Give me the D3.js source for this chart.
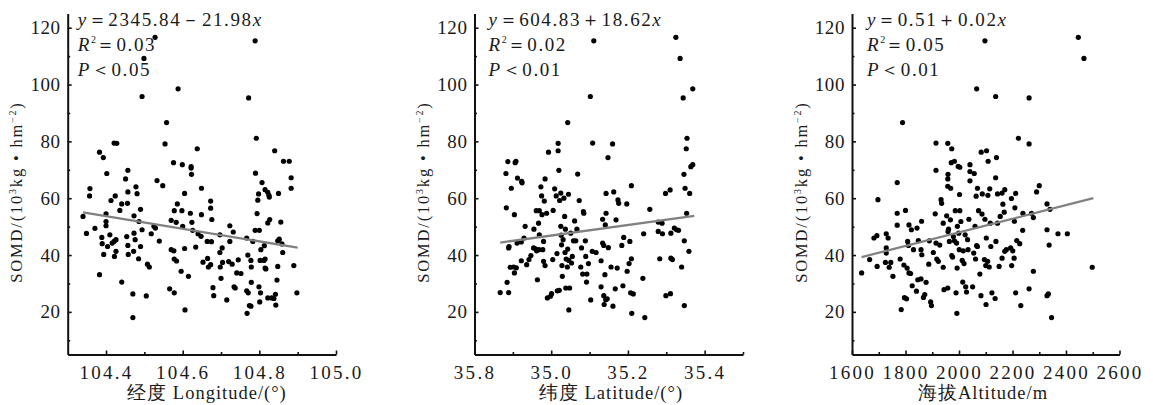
<!DOCTYPE html>
<html>
<head>
<meta charset="utf-8">
<script src="https://cdn.jsdelivr.net/npm/d3@7"></script>
<style>
  body { margin: 0; background: #fff; }
  text { font-family: "Liberation Serif", "Times New Roman", serif; fill: #1a1a1a; }
</style>
</head>
<body>
<div id="chart"></div>
<script>
// SOMD against longitude / latitude / altitude, three scatter panels

// points: [x, SOMD]
var lonPoints = [
  [104.528,116.6],[104.499,109.2],[104.494,95.8],[104.588,98.5],[104.789,115.4],[104.772,95.3],[104.558,86.6],[104.792,81.1],
  [104.421,79.4],[104.428,79.3],[104.554,79.1],[104.638,77.4],[104.840,76.7],[104.383,76.2],[104.393,74.3],[104.863,73.0],
  [104.878,73.0],[104.576,72.5],[104.599,71.8],[104.622,71.1],[104.622,70.6],[104.457,69.8],[104.402,68.7],[104.623,68.4],
  [104.790,68.8],[104.883,67.2],[104.451,66.8],[104.533,66.2],[104.807,65.5],[104.548,64.4],[104.478,64.0],[104.358,63.4],
  [104.649,63.5],[104.883,63.5],[104.815,63.0],[104.822,62.1],[104.457,62.2],[104.481,61.6],[104.605,61.7],[104.798,61.5],
  [104.850,61.7],[104.357,60.8],[104.424,60.8],[104.825,61.0],[104.826,60.4],[104.673,59.0],[104.413,59.2],[104.796,59.3],
  [104.441,58.0],[104.586,58.0],[104.456,58.2],
  [104.340,53.6],[104.349,47.6],[104.371,49.4],[104.383,33.1],[104.389,46.2],[104.390,44.0],[104.394,40.2],[104.400,54.5],
  [104.400,51.8],[104.400,50.3],[104.410,47.1],[104.404,43.0],[104.416,44.2],[104.421,44.8],[104.426,45.4],[104.426,41.3],
  [104.422,39.5],[104.436,55.7],[104.441,30.5],[104.454,46.5],[104.457,43.4],[104.458,40.2],[104.485,38.7],[104.470,26.3],
  [104.470,18.0],[104.473,53.8],[104.473,47.7],[104.476,45.4],[104.472,41.3],[104.486,51.8],[104.490,56.1],[104.490,43.0],
  [104.494,48.9],[104.505,25.6],[104.508,36.8],[104.513,35.8],[104.518,47.5],[104.525,50.1],[104.529,49.5],[104.539,44.9],
  [104.566,28.1],[104.570,52.2],[104.570,41.9],[104.577,41.5],[104.578,55.6],[104.583,51.5],[104.578,38.6],[104.584,37.9],
  [104.578,26.7],[104.596,34.3],[104.598,55.6],[104.600,50.1],[104.605,42.3],[104.606,20.7],[104.615,32.5],[104.620,54.7],
  [104.624,51.5],[104.626,48.7],[104.634,42.8],[104.640,47.5],[104.649,54.2],[104.653,37.5],[104.648,46.6],[104.664,44.8],
  [104.665,38.8],[104.667,35.8],[104.673,56.5],[104.676,52.5],[104.675,44.7],[104.673,36.6],[104.679,28.5],[104.681,25.7],
  [104.697,47.1],[104.697,40.9],[104.698,35.8],[104.700,31.8],[104.703,42.5],[104.704,37.4],[104.715,24.2],[104.720,37.7],
  [104.723,50.3],[104.723,44.8],[104.729,36.8],[104.732,48.1],[104.734,28.8],[104.737,28.4],[104.745,38.3],[104.741,33.7],
  [104.752,33.5],
  [104.767,46.0],[104.770,40.0],[104.767,27.4],[104.771,26.7],[104.774,22.2],[104.778,22.0],[104.768,19.5],[104.779,35.8],
  [104.778,38.1],[104.779,30.4],[104.783,44.8],[104.789,48.7],[104.794,54.6],[104.799,28.8],[104.800,48.7],[104.802,38.1],
  [104.801,23.5],[104.803,26.7],[104.804,41.9],[104.812,38.1],[104.813,43.3],[104.815,38.6],[104.815,35.4],[104.817,35.1],
  [104.822,51.3],[104.827,52.5],[104.822,24.9],[104.832,24.9],[104.838,24.7],[104.843,22.4],[104.842,26.2],[104.846,31.2],
  [104.848,36.0],[104.848,45.0],[104.852,45.6],[104.856,51.6],[104.859,43.9],[104.861,40.9],[104.890,36.3],[104.898,26.7]
];

var latPoints = [
  [35.111,115.4],[35.325,116.6],[35.336,109.2],[35.102,95.8],[35.369,98.5],[35.344,95.3],[35.043,86.6],[35.354,81.1],
  [35.018,79.3],[35.108,79.4],[35.160,79.1],[35.352,77.4],[35.018,76.7],[34.993,76.2],[35.148,74.3],[34.887,72.9],
  [34.908,73.0],[34.906,72.5],[35.369,71.8],[35.364,71.1],[34.882,68.7],[35.020,69.8],[35.069,68.5],[35.346,68.4],
  [34.912,67.1],[34.923,65.9],[34.924,65.4],[34.984,66.8],[34.973,64.0],[34.896,63.5],[35.209,64.4],[35.310,62.9],
  [35.349,63.5],[35.009,63.3],[35.163,62.2],[35.143,61.7],[35.298,61.7],[35.361,61.7],
  [34.883,56.6],[34.904,54.2],[34.932,50.1],[34.867,26.8],[34.885,30.4],[34.889,26.8],[34.889,42.5],[34.890,43.0],
  [34.893,35.7],[34.902,35.8],[34.904,33.7],[34.909,35.5],[34.911,44.2],[34.922,44.6],[34.922,38.0],[34.929,46.0],
  [34.936,36.6],[34.942,38.4],[34.947,39.8],[34.954,42.5],[34.955,49.1],[34.959,42.2],[34.961,55.6],[34.962,41.5],
  [34.964,31.3],[34.967,51.2],[34.968,41.9],[34.969,55.6],[34.969,47.1],[34.975,60.8],[34.976,54.2],[34.978,41.9],
  [34.980,44.8],[34.980,37.8],[34.982,59.0],[34.984,36.3],[34.988,54.7],[34.990,24.9],[34.998,25.5],[35.001,26.4],
  [35.004,38.4],[35.005,55.7],[35.013,60.8],[35.015,40.5],[35.016,27.4],[35.021,27.6],[35.022,59.2],[35.025,61.8],
  [35.025,50.1],[35.026,47.0],[35.027,43.6],[35.028,36.3],[35.029,32.5],[35.031,45.4],[35.033,60.0],[35.035,53.6],
  [35.036,40.9],[35.037,49.1],[35.038,28.4],[35.039,38.6],[35.042,35.8],[35.043,42.1],[35.045,61.4],[35.046,20.7],
  [35.046,38.1],[35.048,28.4],[35.051,47.7],[35.053,37.2],[35.055,39.5],[35.058,45.0],[35.061,52.0],[35.064,45.0],
  [35.067,49.1],[35.073,59.2],[35.077,35.8],[35.079,42.5],[35.082,33.3],[35.084,55.3],[35.085,54.7],[35.089,45.0],
  [35.090,39.5],[35.092,30.5],[35.093,33.3],[35.097,37.0],[35.103,24.2],[35.107,41.3],[35.117,40.9],[35.130,38.0],
  [35.130,28.8],[35.134,52.6],[35.134,44.2],[35.137,43.4],[35.137,25.7],[35.138,22.6],[35.140,33.1],[35.141,50.6],
  [35.142,24.3],[35.143,54.7],[35.146,24.6],[35.149,42.6],[35.156,35.8],[35.161,22.0],[35.167,28.1],[35.169,52.4],
  [35.172,35.4],[35.174,59.4],[35.176,58.2],[35.184,43.4],[35.187,29.2],[35.189,46.2],[35.197,58.0],[35.198,34.3],
  [35.203,37.0],[35.205,44.8],[35.207,26.7],[35.209,38.7],[35.210,19.5],[35.214,26.3],[35.239,31.8],[35.241,47.5],
  [35.244,18.0],[35.257,56.1],[35.279,48.3],[35.279,51.6],[35.283,38.7],[35.289,51.2],[35.290,47.5],[35.299,25.7],
  [35.311,26.4],[35.312,47.7],[35.312,38.9],[35.316,38.4],[35.321,49.5],[35.327,48.9],[35.332,48.7],[35.340,35.8],
  [35.347,45.0],[35.347,22.2],[35.353,54.7],[35.359,41.3]
];

var altPoints = [
  [2097,115.4],[2446,116.6],[2467,109.2],[2066,98.5],[2137,95.8],[2262,95.3],[1789,86.6],[2222,81.1],[1914,79.4],[1958,79.3],
  [2262,79.1],[1973,77.4],[2083,76.2],[2103,76.7],[2140,74.3],[2109,73.0],[1971,72.5],[1983,73.0],[1997,71.2],[2003,70.9],
  [1914,69.8],[2041,71.8],[1959,68.4],[2041,69.4],[2057,68.7],[1958,66.8],[2041,66.1],[2137,67.2],[1769,65.5],[1958,64.2],
  [1969,63.5],[2069,63.5],[2115,63.3],[2171,63.0],[2300,64.4],[2290,62.2],[2002,61.3],[2087,61.5],[2108,61.0],[2144,61.5],
  [2161,61.8],[2212,61.7],[2064,60.7],[1697,59.5],[1933,59.5],[2196,59.9],
  [1636,33.7],[1666,38.4],[1682,46.0],[1693,46.8],[1694,36.0],[1725,37.4],[1728,47.5],[1728,42.5],[1728,40.7],[1735,46.0],
  [1739,35.7],[1745,37.4],[1753,32.5],[1769,54.7],[1769,50.5],[1780,38.6],[1784,20.8],[1794,36.5],[1796,25.0],[1800,55.7],
  [1804,24.6],[1806,35.4],[1808,44.8],[1811,43.4],[1813,50.6],[1813,33.7],[1819,33.5],[1822,48.9],[1825,29.2],[1830,41.9],
  [1841,27.3],[1843,49.5],[1846,31.3],[1848,45.1],[1858,31.6],[1858,41.9],[1860,51.9],[1861,40.1],[1867,25.1],[1872,26.1],
  [1877,30.4],[1887,36.8],[1889,45.0],[1894,23.5],[1897,22.2],[1904,40.9],[1911,54.5],[1914,44.2],[1917,38.6],[1923,37.8],
  [1928,43.5],[1935,58.2],[1941,51.2],[1941,35.7],[1944,27.8],[1954,53.8],[1958,28.4],[1959,48.3],[1961,49.1],[1964,44.8],
  [1968,52.4],[1973,39.8],[1976,39.3],[1979,46.5],[1983,45.0],[1986,55.6],[1989,26.7],[1991,44.2],[1992,19.5],[1993,35.4],
  [1994,50.1],[1999,47.7],[2001,41.9],[2003,55.6],[2007,51.8],[2012,38.1],[2014,30.5],[2016,41.5],[2019,37.0],[2023,47.1],
  [2025,28.8],[2028,27.0],[2032,45.4],[2034,41.9],[2037,52.6],[2051,28.8],[2055,40.7],[2060,50.1],[2062,38.6],[2066,43.3],
  [2069,43.0],[2073,55.6],[2078,33.3],[2082,25.7],[2086,54.4],[2095,38.4],[2097,52.6],[2100,36.3],[2101,22.6],[2102,46.0],
  [2107,37.8],[2113,35.8],[2117,51.2],[2119,43.0],[2123,26.7],[2135,24.7],[2138,44.8],[2144,51.2],[2150,36.0],[2154,53.6],
  [2161,38.9],[2164,57.9],[2169,55.1],[2171,41.3],[2177,41.9],[2193,42.5],[2197,36.3],[2201,41.5],[2206,38.9],[2207,51.9],
  [2209,56.6],[2212,26.7],[2216,45.1],[2227,44.0],[2231,22.2],[2238,48.7],[2239,54.7],[2262,28.1],[2271,54.7],[2278,53.2],
  [2278,34.3],[2329,58.0],[2329,48.9],[2329,25.7],[2334,26.3],[2337,43.5],[2340,56.1],[2346,18.0],[2370,47.5],[2405,47.5],
  [2498,35.7]
];

// fitted lines as drawn (end points)
var lonLine = [[104.34, 55.0], [104.90, 42.6]];
var latLine = [[34.867, 44.4], [35.373, 53.8]];
var altLine = [[1636, 39.3], [2502, 60.0]];

// axis ticks and labels
var yMajor = [20, 40, 60, 80, 100, 120];
var yMinor = [10, 30, 50, 70, 90, 110];
var lonMajor = [104.4, 104.6, 104.8, 105.0];
var lonMinor = [104.5, 104.7, 104.9];
var lonLabels = ["104.4", "104.6", "104.8", "105.0"];
var latMajor = [34.8, 35.0, 35.2, 35.4];
var latMinor = [34.9, 35.1, 35.3, 35.5];
var latLabels = ["35.8", "35.0", "35.2", "35.4"];   // first label printed as in the original
var altMajor = [1600, 1800, 2000, 2200, 2400, 2600];
var altMinor = [1700, 1900, 2100, 2300, 2500];
var altLabels = ["1600", "1800", "2000", "2200", "2400", "2600"];

var lonStats = ["2345.84－21.98", "0.03", "＜0.05"];
var latStats = ["604.83＋18.62", "0.02", "＜0.01"];
var altStats = ["0.51＋0.02", "0.05", "＜0.01"];

var xTitles = ["经度 Longitude/(°)", "纬度 Latitude/(°)", "海拔Altitude/m"];

// page setup
var svgWidth = 1153;
var svgHeight = 405;
var axisTop = 13.5;
var axisBottom = 354.5;

var svg = d3.select("#chart").append("svg")
  .attr("width", svgWidth)
  .attr("height", svgHeight);

var yScale = d3.scaleLinear().domain([5, 125]).range([axisBottom, axisTop]);

var panels = [
  { points: lonPoints, line: lonLine, domain: [104.3, 105.0], range: [67.7, 336], major: lonMajor, minor: lonMinor,
    labels: lonLabels, stats: lonStats, title: xTitles[0], titleX: 207, statX: 10 },
  { points: latPoints, line: latLine, domain: [34.8, 35.5], range: [474.5, 743], major: latMajor, minor: latMinor,
    labels: latLabels, stats: latStats, title: xTitles[1], titleX: 611, statX: 14 },
  { points: altPoints, line: altLine, domain: [1600, 2600], range: [852, 1119.5], major: altMajor, minor: altMinor,
    labels: altLabels, stats: altStats, title: xTitles[2], titleX: 983, statX: 15 }
];

panels.forEach(function(p) {
  var x = d3.scaleLinear().domain(p.domain).range(p.range);
  var x0 = p.range[0];
  var g = svg.append("g");

  // x axis, ticks pointing inwards
  var xAxis = g.append("g")
    .attr("transform", `translate(0, ${axisBottom})`)
    .call(d3.axisBottom(x).tickValues(p.major).tickSize(-4).tickSizeOuter(0).tickPadding(11.5)
      .tickFormat(function(d, i) { return p.labels[i]; }));
  g.append("g")
    .attr("transform", `translate(0, ${axisBottom})`)
    .call(d3.axisBottom(x).tickValues(p.minor).tickSize(-2.5).tickSizeOuter(0).tickFormat(""))
    .select(".domain").remove();
  xAxis.selectAll("text").style("font-size", "19px").style("letter-spacing", "2.3px")
    .style("font-family", "Liberation Serif").attr("fill", "#1a1a1a");

  // y axis
  var yAxis = g.append("g")
    .attr("transform", `translate(${x0}, 0)`)
    .call(d3.axisLeft(yScale).tickValues(yMajor).tickSize(-4).tickSizeOuter(0).tickPadding(7));
  g.append("g")
    .attr("transform", `translate(${x0}, 0)`)
    .call(d3.axisLeft(yScale).tickValues(yMinor).tickSize(-2.5).tickSizeOuter(0).tickFormat(""))
    .select(".domain").remove();
  yAxis.selectAll("text").style("font-size", "19px").style("letter-spacing", "0.6px")
    .style("font-family", "Liberation Serif").attr("fill", "#1a1a1a");

  g.selectAll(".domain").attr("stroke", "#111").attr("stroke-width", 2);
  g.selectAll(".tick line").attr("stroke", "#111").attr("stroke-width", 1.6);

  // points
  g.append("g").selectAll("circle")
    .data(p.points)
    .enter()
    .append("circle")
    .attr("cx", d => x(d[0]))
    .attr("cy", d => yScale(d[1]))
    .attr("r", 2.6)
    .attr("fill", "#000");

  // fitted line
  g.append("line")
    .attr("x1", x(p.line[0][0])).attr("y1", yScale(p.line[0][1]))
    .attr("x2", x(p.line[1][0])).attr("y2", yScale(p.line[1][1]))
    .attr("stroke", "#808080")
    .attr("stroke-width", 2.3);

  // equation, R2, P
  var sx = x0 + p.statX;
  var eq = g.append("text").attr("x", sx).attr("y", 26).style("font-size", "19px").style("letter-spacing", "1.6px");
  eq.append("tspan").style("font-style", "italic").text("y");
  eq.append("tspan").text("＝" + p.stats[0]);
  eq.append("tspan").style("font-style", "italic").text("x");

  var r2 = g.append("text").attr("x", sx).attr("y", 51).style("font-size", "19px").style("letter-spacing", "1.6px");
  r2.append("tspan").style("font-style", "italic").text("R");
  r2.append("tspan").attr("dy", -8).style("font-size", "10px").style("letter-spacing", "0px").text("2");
  r2.append("tspan").attr("dy", 8).text("＝" + p.stats[1]);

  var pv = g.append("text").attr("x", sx).attr("y", 76).style("font-size", "19px").style("letter-spacing", "1.6px");
  pv.append("tspan").style("font-style", "italic").text("P");
  pv.append("tspan").text(p.stats[2]);

  // y title
  var yt = g.append("text")
    .attr("transform", `translate(${x0 - 51}, 192) rotate(-90)`)
    .attr("text-anchor", "middle")
    .attr("dy", "0.35em")
    .style("font-size", "16.5px")
    .style("letter-spacing", "1.8px");
  yt.append("tspan").text("SOMD/(10");
  yt.append("tspan").attr("dy", -6).style("font-size", "10px").text("3");
  yt.append("tspan").attr("dy", 6).text("kg • hm");
  yt.append("tspan").attr("dy", -6).style("font-size", "10px").text("−2");
  yt.append("tspan").attr("dy", 6).text(")");

  // x title
  g.append("text")
    .attr("x", p.titleX)
    .attr("y", 399)
    .attr("text-anchor", "middle")
    .style("font-size", "18.5px")
    .style("letter-spacing", "1px")
    .text(p.title);
});
</script>
</body>
</html>
